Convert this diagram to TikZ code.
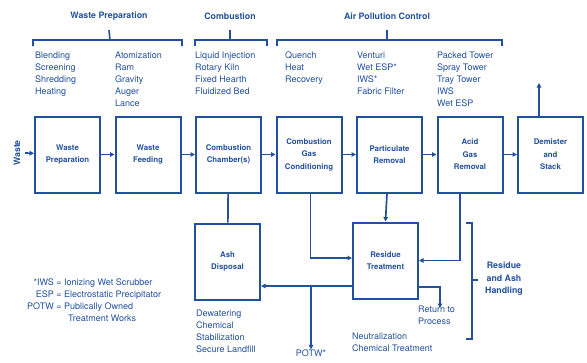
\documentclass[tikz,border=0pt]{standalone}
\usepackage{fontspec}
\setmainfont{TeX Gyre Heros}
\usetikzlibrary{arrows.meta}
\definecolor{ink}{RGB}{34,80,156}

\begin{document}
\begin{tikzpicture}[x=1pt,y=-1pt,
	every node/.style={text=ink,inner sep=0pt,font=\fontsize{9}{12}\selectfont},
	unit/.style={draw=ink,line width=2pt,minimum width=65pt,minimum height=76pt,
		align=center,font=\fontsize{7.8}{12.5}\selectfont\bfseries},
	head/.style={font=\fontsize{8.8}{12.5}\selectfont\bfseries},
	list/.style={anchor=north west,align=left},
	wire/.style={draw=ink,line width=1.7pt},
	flow/.style={wire,-{Triangle[length=4.5pt,width=4.5pt]}},
	brace/.style={draw=ink,line width=1.6pt}]
	\useasboundingbox (0,0) rectangle (587,362);

	% main line of units
	\node[unit] (prep) at (67.5,154.5) {Waste\\Preparation};
	\node[unit] (feed) at (148,154.5) {Waste\\Feeding};
	\node[unit] (comb) at (228.5,154.5) {Combustion\\Chamber(s)};
	\node[unit] (cond) at (309,154.5) {Combustion\\Gas\\Conditioning};
	\node[unit] (part) at (389.5,154.5) {Particulate\\Removal};
	\node[unit] (acid) at (470,154.5) {Acid\\Gas\\Removal};
	\node[unit] (stack) at (550.5,154.5) {Demister\\and\\Stack};
	\node[unit] (ash) at (227.5,261.5) {Ash\\Disposal};
	\node[unit] (resid) at (385.5,260.5) {Residue\\Treatment};

	\node[head,rotate=90] (waste) at (17,153) {Waste};
	\coordinate (win) at (25,153);
	\coordinate (out) at (539,83);
	\coordinate (split) at (311,286);

	% headings
	\node[head] (hprep) at (109,16) {Waste Preparation};
	\node[head] (hcomb) at (230,16) {Combustion};
	\node[head] (hair) at (387,16) {Air Pollution Control};
	\draw[brace] (33,46) -- (33,40) -- (182,40) -- (182,46) (110,40) -- (hprep.south |- 0,30);
	\draw[brace] (195,46) -- (195,40) -- (267,40) -- (267,46) (230,40) -- (hcomb.south |- 0,30);
	\draw[brace] (277,46) -- (277,40) -- (502,40) -- (502,46) (387,40) -- (hair.south |- 0,30);

	% options
	\node[list] (l1) at (35,52) {Blending\\Screening\\Shredding\\Heating};
	\node[list] (l2) at (115,52) {Atomization\\Ram\\Gravity\\Auger\\Lance};
	\node[list] (l3) at (195,52) {Liquid Injection\\Rotary Kiln\\Fixed Hearth\\Fluidized Bed};
	\node[list] (l4) at (285,52) {Quench\\Heat\\Recovery};
	\node[list] (l5) at (357,52) {Venturi\\Wet ESP*\\IWS*\\Fabric Filter};
	\node[list] (l6) at (437,52) {Packed Tower\\Spray Tower\\Tray Tower\\IWS\\Wet ESP};

	% gas path
	\draw[flow] (win) -- (prep);
	\draw[flow] (prep) -- (feed);
	\draw[flow] (feed) -- (comb);
	\draw[flow] (comb) -- (cond);
	\draw[flow] (cond) -- (part);
	\draw[flow] (part) -- (acid);
	\draw[flow] (acid) -- (stack);
	\draw[flow] (stack.north -| out) -- (out);

	% residues
	\draw[wire] (comb) -- (ash);
	\draw[flow] ([xshift=1.5pt]cond.south) |- ([yshift=2.5pt]resid.west);
	\draw[flow] ([xshift=-2.5pt]part.south) -- (resid.north);
	\draw[flow] ([xshift=-10pt]acid.south) |- (resid.east);
	\draw[flow] ([yshift=-25.5pt]resid.west) -- ([yshift=-24.5pt]ash.east);
	\node (potw) at (311,353) {POTW*};
	\draw[flow] (split) -- (potw.north);
	\node[list] (ret) at (418,306) {Return to\\Process};
	\draw[flow] ([yshift=-26.5pt]resid.east) -| ([xshift=22pt,yshift=-2pt]ret.north west);

	% bottom notes
	\node[list] (ashnote) at (196,310) {Dewatering\\Chemical\\Stabilization\\Secure Landfill};
	\node[list] (resnote) at (352,333) {Neutralization\\Chemical Treatment};
	\node[anchor=north west] (legend) at (27,277) {\begin{tabular}{@{}r@{\ }c@{\ }l@{}}
		*IWS & = & Ionizing Wet Scrubber\\
		ESP & = & Electrostatic Precipitator\\
		POTW & = & Publically Owned\\
		 & & \hspace{4pt}Treatment Works
	\end{tabular}};

	% handling bracket
	\draw[brace] (466,223) -- (472,223) -- (472,339) -- (466,339) (472,280) -- (478,280);
	\node[head,align=center] (handling) at (504,279) {Residue\\and Ash\\Handling};
\end{tikzpicture}
\end{document}
